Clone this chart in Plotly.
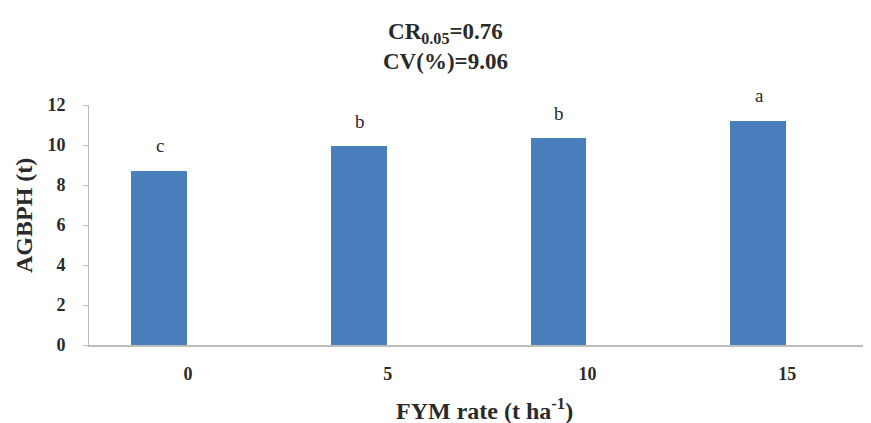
import plotly.graph_objects as go

categories = ["0", "5", "10", "15"]
agbph = [8.72, 9.95, 10.35, 11.22]
letters = ["c", "b", "b", "a"]
y_ticks = [0, 2, 4, 6, 8, 10, 12]

SERIF = "Liberation Serif, Times New Roman, serif"
BAR_COLOR = "#4a7fbd"
AXIS_GRAY = "#bdbdbd"
TXT = "#2a2a2a"

# page body has an 8px default margin; figure is laid out to compensate
PAD = 8
W, H = 871 - PAD, 423 - PAD
# target page-pixel geometry of the plot area
PX_L, PX_T, PX_B, PX_R = 89, 105, 345, 871
L, T = PX_L - PAD, PX_T - PAD
B = H - (PX_B - PAD)
R = W - (PX_R - PAD)
PW, PH = W - L - R, H - T - B


def px_x(px):
    return (px - PX_L) / PW


def px_y(py):
    return (PX_B - py) / PH


fig = go.Figure()
fig.add_trace(go.Bar(
    x=list(range(len(categories))), y=agbph,
    width=0.28, offset=-0.285,
    marker=dict(color=BAR_COLOR, line=dict(width=0)),
    showlegend=False, hoverinfo="skip",
))

for i, (v, t) in enumerate(zip(agbph, letters)):
    fig.add_annotation(x=i, y=v, text=t, showarrow=False,
                       xshift=-28, yshift=25,
                       font=dict(family=SERIF, size=19, color=TXT))

# chart title (two lines)
fig.add_annotation(xref="paper", yref="paper", x=px_x(445), y=px_y(46),
                   yanchor="middle", xanchor="center",
                   text="<b>CR<sub>0.05</sub>=0.76<br>CV(%)=9.06</b>", showarrow=False,
                   font=dict(family=SERIF, size=23, color=TXT))

# x axis title
fig.add_annotation(xref="paper", yref="paper", x=px_x(484), y=px_y(409),
                   yanchor="middle", xanchor="center",
                   text="<b>FYM rate (t ha<sup>-1</sup>)</b>", showarrow=False,
                   font=dict(family=SERIF, size=24, color=TXT))

# y axis title
fig.add_annotation(xref="paper", yref="paper", x=px_x(24), y=px_y(216),
                   yanchor="middle", xanchor="center", textangle=-90,
                   text="<b>AGBPH (t)</b>", showarrow=False,
                   font=dict(family=SERIF, size=24, color=TXT))

fig.update_layout(
    width=W, height=H,
    margin=dict(l=L, r=R, t=T, b=B, autoexpand=False),
    paper_bgcolor="white", plot_bgcolor="white",
    bargap=0,
    xaxis=dict(
        range=[-0.496, 3.42], tickvals=list(range(len(categories))),
        ticktext=["<b>%s</b>" % c for c in categories],
        automargin=False,
        showline=True, linecolor=AXIS_GRAY, linewidth=2,
        ticks="", showgrid=False, zeroline=False,
        ticklabelstandoff=11,
        tickfont=dict(family=SERIF, size=18, color=TXT),
    ),
    yaxis=dict(
        range=[0, 12], tickvals=y_ticks, ticktext=["<b>%d</b>" % v for v in y_ticks],
        automargin=False,
        showline=True, linecolor=AXIS_GRAY, linewidth=1,
        ticks="outside", ticklen=5, tickcolor=AXIS_GRAY,
        ticklabelstandoff=14,
        showgrid=False, zeroline=False,
        tickfont=dict(family=SERIF, size=18, color=TXT),
    ),
)

fig.write_html("out.html")
